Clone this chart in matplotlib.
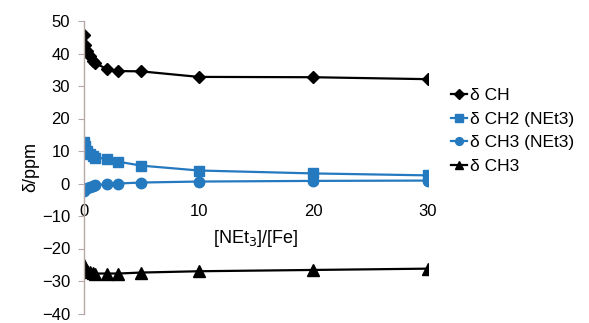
import matplotlib
matplotlib.use("Agg")
import matplotlib.pyplot as plt

plt.rcParams['font.family'] = ['Liberation Sans', 'DejaVu Sans']

ratio = [0, 0.1, 0.25, 0.5, 0.75, 1, 2, 3, 5, 10, 20, 30]
ch = [45.6, 42.5, 40.7, 39.1, 37.6, 37.0, 35.2, 34.6, 34.5, 32.8, 32.7, 32.1]
ch2_net3 = [12.8, 11.6, 10.1, 9.2, 8.5, 8.0, 7.6, 6.7, 5.5, 4.0, 3.1, 2.5]
ch3_net3 = [-2.2, -1.8, -1.3, -1.0, -0.7, -0.5, -0.2, 0.0, 0.3, 0.6, 0.8, 0.9]
ch3 = [-25.0, -26.0, -26.8, -27.3, -27.6, -27.7, -27.7, -27.7, -27.4, -27.0, -26.6, -26.2]

labels = ['δ CH', 'δ CH2 (NEt3)', 'δ CH3 (NEt3)', 'δ CH3']
xticks = [0, 10, 20, 30]
yticks = list(range(-40, 51, 10))

blue = '#2479bf'
fig = plt.figure(figsize=(5.89, 3.23), dpi=100)
top_px, bot_px = 21.0, 313.5
ax = fig.add_axes([84/589, 1-bot_px/323, (428-84)/589, (bot_px-top_px)/323])

ax.plot(ratio, ch, color='black', marker='D', ms=6.5, lw=1.6, label=labels[0])
ax.plot(ratio, ch2_net3, color=blue, marker='s', ms=7.5, lw=1.6, label=labels[1])
ax.plot(ratio, ch3_net3, color=blue, marker='o', ms=7.5, lw=1.6, label=labels[2])
ax.plot(ratio, ch3, color='black', marker='^', ms=8, lw=1.6, label=labels[3])

ax.set_xlim(0, 30)
ax.set_ylim(-40, 50)
ax.set_yticks(yticks)
ax.set_xticks(xticks)
ax.set_xticklabels([str(t) for t in xticks])

for s in ['top', 'right']:
    ax.spines[s].set_visible(False)
ax.spines['bottom'].set_position(('data', 0))
ax.spines['bottom'].set_visible(False)
ax.spines['left'].set_color('#b8a8a8')
ax.spines['left'].set_linewidth(1.0)
ax.tick_params(axis='y', direction='out', length=4, color='#b8a8a8', labelsize=12, pad=6)
ax.tick_params(axis='x', length=0, labelsize=12, pad=15)

ax.set_ylabel('δ/ppm', fontsize=13, labelpad=2)
ax.set_xlabel('[NEt$_3$]/[Fe]', fontsize=13)
ax.xaxis.set_label_coords(0.5, (bot_px-228)/(bot_px-top_px))

ax.legend(loc='center left', bbox_to_anchor=(451/589, 1-131/323), bbox_transform=fig.transFigure,
          frameon=False, fontsize=12.5, handlelength=0.9, handletextpad=0.2,
          labelspacing=0.5, borderpad=0, borderaxespad=0, markerscale=0.75)

fig.savefig('out.png', dpi=100)
